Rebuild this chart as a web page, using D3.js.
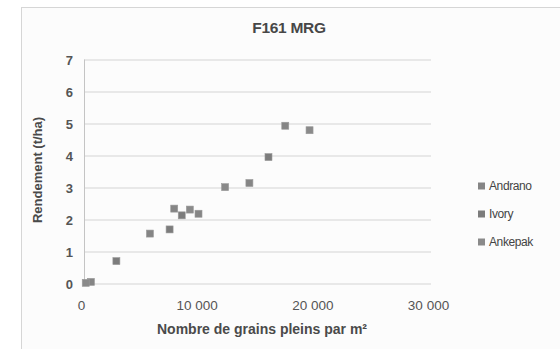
<!DOCTYPE html>
<html>
<head>
<meta charset="utf-8">
<script src="https://cdn.jsdelivr.net/npm/d3@7/dist/d3.min.js"></script>
<style>
  html, body { margin: 0; padding: 0; background: #ffffff; }
  svg { display: block; }
  text { font-family: Arial, "Liberation Sans", Helvetica, sans-serif; }
</style>
</head>
<body>
<svg id="chart" width="560" height="349"></svg>
<script>
// Yield (t/ha) against filled grains per m², three varieties
const seriesNames = ["Andrano", "Ivory", "Ankepak"];
const seriesColors = ["#858585", "#7c7c7c", "#8a8a8a"];

const andranoX = [600, 5700, 7800, 9900, 14300, 17400];
const andranoY = [0.05, 1.56, 2.34, 2.18, 3.14, 4.93];
const ivoryX = [2800, 7400, 8450, 15950];
const ivoryY = [0.70, 1.69, 2.13, 3.95];
const ankepakX = [150, 9150, 12200, 19500];
const ankepakY = [0.02, 2.31, 3.01, 4.79];

const xTicks = [0, 10000, 20000, 30000];
const xTickLabels = ["0", "10 000", "20 000", "30 000"];
const yTicks = [0, 1, 2, 3, 4, 5, 6, 7];

const titleText = "F161 MRG";
const xTitle = "Nombre de grains pleins par m²";
const yTitle = "Rendement (t/ha)";

const series = [
  { name: seriesNames[0], xs: andranoX, ys: andranoY, color: seriesColors[0] },
  { name: seriesNames[1], xs: ivoryX, ys: ivoryY, color: seriesColors[1] },
  { name: seriesNames[2], xs: ankepakX, ys: ankepakY, color: seriesColors[2] }
];

const svg = d3.select("#chart");

// chart area frame
svg.append("rect")
  .attr("x", 21.5).attr("y", 7.5)
  .attr("width", 545).attr("height", 350)
  .attr("fill", "#fcfcfc")
  .attr("stroke", "#d6d6d6").attr("stroke-width", 1);

const plot = { left: 84, right: 431, top: 59.5, bottom: 283.5 };

const x = d3.scaleLinear().domain([0, 30000]).range([plot.left, plot.right]);
const y = d3.scaleLinear().domain([0, 7]).range([plot.bottom, plot.top]);

// horizontal gridlines + y tick labels
const yAxis = d3.axisLeft(y)
  .tickValues(yTicks)
  .tickSize(-(plot.right - plot.left))
  .tickPadding(10)
  .tickFormat(d3.format("d"));

const gy = svg.append("g")
  .attr("transform", `translate(${plot.left},0)`)
  .call(yAxis);
gy.select(".domain").remove();
gy.selectAll(".tick line").attr("stroke", "#d4d4d4").attr("stroke-width", 1);
gy.selectAll(".tick text")
  .attr("fill", "#555555")
  .attr("font-size", 13)
  .attr("font-weight", "bold")
  .attr("dy", "0.36em")
  .attr("x", -11);

// vertical axis line
svg.append("line")
  .attr("x1", plot.left + 0.5).attr("x2", plot.left + 0.5)
  .attr("y1", plot.top).attr("y2", plot.bottom + 1)
  .attr("stroke", "#c4c4c4").attr("stroke-width", 1);

// x tick labels
const xAxis = d3.axisBottom(x)
  .tickValues(xTicks)
  .tickSize(0)
  .tickPadding(17)
  .tickFormat((d, i) => xTickLabels[i]);

const gx = svg.append("g")
  .attr("transform", `translate(-3,${plot.bottom})`)
  .call(xAxis);
gx.select(".domain").remove();
gx.selectAll(".tick text")
  .attr("fill", "#555555")
  .attr("font-size", 13.5);

// markers
const ms = 7;
series.forEach(s => {
  svg.append("g")
    .selectAll("rect")
    .data(s.xs.map((v, i) => [v, s.ys[i]]))
    .join("rect")
    .attr("x", d => x(d[0]) - ms / 2)
    .attr("y", d => y(d[1]) - ms / 2)
    .attr("width", ms).attr("height", ms)
    .attr("fill", s.color)
    .attr("stroke", "#9a9a9a").attr("stroke-width", 0.6);
});

// title
svg.append("text")
  .attr("x", 289).attr("y", 33)
  .attr("text-anchor", "middle")
  .attr("font-size", 15.5)
  .attr("font-weight", "bold")
  .attr("fill", "#474747")
  .attr("letter-spacing", "-0.3")
  .text(titleText);

// axis titles
svg.append("text")
  .attr("x", 262).attr("y", 334)
  .attr("text-anchor", "middle")
  .attr("font-size", 14)
  .attr("font-weight", "bold")
  .attr("fill", "#4a4a4a")
  .text(xTitle);

svg.append("text")
  .attr("transform", "translate(42,170) rotate(-90)")
  .attr("text-anchor", "middle")
  .attr("font-size", 13)
  .attr("font-weight", "bold")
  .attr("fill", "#4a4a4a")
  .text(yTitle);

// legend
const legend = svg.append("g").attr("transform", "translate(478,186)");
const lg = legend.selectAll("g")
  .data(series)
  .join("g")
  .attr("transform", (d, i) => `translate(0,${i * 28})`);
lg.append("rect")
  .attr("x", 0).attr("y", -3.5)
  .attr("width", 7).attr("height", 7)
  .attr("fill", d => d.color);
lg.append("text")
  .attr("x", 11).attr("y", 0)
  .attr("dy", "0.36em")
  .attr("font-size", 12)
  .attr("fill", "#444444")
  .attr("letter-spacing", "-0.4")
  .text(d => d.name);
</script>
</body>
</html>
